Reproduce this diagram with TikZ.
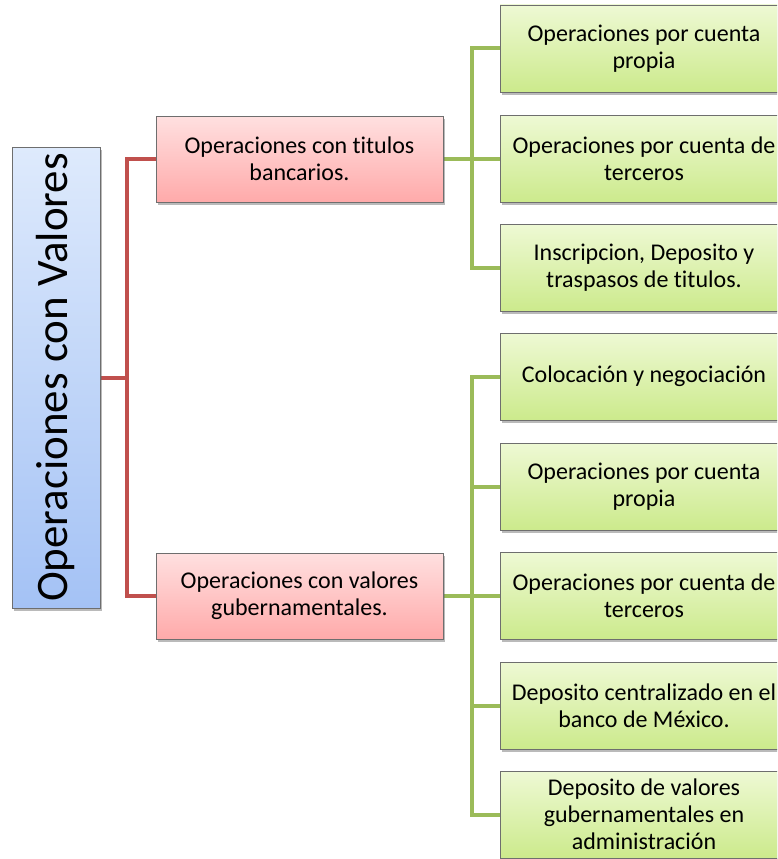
\documentclass[tikz,border=0pt]{standalone}
\usepackage{fontspec}
\setmainfont{Carlito}[RawFeature={-liga;-clig;-dlig}]
\usetikzlibrary{shadows,backgrounds}

\definecolor{rootTop}{RGB}{222,234,252}
\definecolor{rootBot}{RGB}{164,194,245}
\definecolor{redTop}{RGB}{255,224,224}
\definecolor{redBot}{RGB}{255,170,170}
\definecolor{grnTop}{RGB}{238,249,212}
\definecolor{grnBot}{RGB}{204,234,140}
\definecolor{boxEdge}{RGB}{110,110,110}
\definecolor{redLine}{RGB}{192,80,77}
\definecolor{grnLine}{RGB}{155,187,89}

\tikzset{
  x=1pt, y=-1pt,
  basebox/.style={draw=boxEdge, line width=0.8pt, inner sep=0pt, align=center,
    font=\fontsize{24}{27}\selectfont,
    drop shadow={shadow xshift=2pt, shadow yshift=-2.5pt, opacity=0.45, fill=black!60}},
  rootbox/.style={basebox, minimum width=88pt, minimum height=461pt,
    top color=rootTop, bottom color=rootBot},
  catbox/.style={basebox, minimum width=287pt, minimum height=86pt,
    top color=redTop, bottom color=redBot},
  itembox/.style={basebox, minimum width=288pt, minimum height=87pt,
    top color=grnTop, bottom color=grnBot},
  redlink/.style={draw=redLine, line width=4pt},
  grnlink/.style={draw=grnLine, line width=4pt},
}

\begin{document}
\begin{tikzpicture}
\clip (0,0) rectangle (777,859);

% root and the two categories
\node[rootbox] (root) at (56,377.5) {};
\node[rotate=90, font=\fontsize{45}{48}\selectfont] (roottext) at (root.center) {Operaciones con Valores};
\node[catbox] (cat1) at (299.5,159) {Operaciones con titulos\\bancarios.};
\node[catbox] (cat2) at (299.5,596) {Operaciones con valores\\gubernamentales.};

% items under the first category
\node[itembox] (a1) at (644,48.5) {Operaciones por cuenta\\propia};
\node[itembox] (a2) at (644,159) {Operaciones por cuenta de\\terceros};
\node[itembox] (a3) at (644,268) {Inscripcion, Deposito y\\traspasos de titulos.};

% items under the second category
\node[itembox] (b1) at (644,376.5) {Colocación y negociación};
\node[itembox] (b2) at (644,486.5) {Operaciones por cuenta\\propia};
\node[itembox] (b3) at (644,596) {Operaciones por cuenta de\\terceros};
\node[itembox] (b4) at (644,705.5) {Deposito centralizado en el\\banco de México.};
\node[itembox] (b5) at (644,814.5) {Deposito de valores\\gubernamentales en\\administración};

% connectors, kept behind the boxes
\begin{scope}[on background layer]
  \coordinate (rj) at (127,377.5);
  \draw[redlink] (root.east) -- (rj);
  \draw[redlink] (rj) |- (cat1.west);
  \draw[redlink] (rj) |- (cat2.west);

  \coordinate (ja) at (472,159);
  \draw[grnlink] (cat1.east) -- (ja);
  \draw[grnlink] (ja) |- (a1.west);
  \draw[grnlink] (ja) |- (a3.west);
  \draw[grnlink] (ja) -- (a2.west);

  \coordinate (jb) at (472,596);
  \draw[grnlink] (cat2.east) -- (jb);
  \draw[grnlink] (jb) |- (b1.west);
  \draw[grnlink] (jb) |- (b5.west);
  \draw[grnlink] (jb |- b2.west) -- (b2.west);
  \draw[grnlink] (jb) -- (b3.west);
  \draw[grnlink] (jb |- b4.west) -- (b4.west);
\end{scope}
\end{tikzpicture}
\end{document}
